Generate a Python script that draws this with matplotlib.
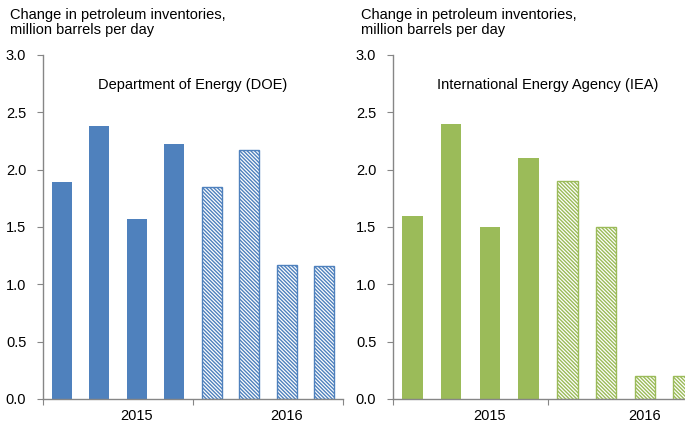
import matplotlib

matplotlib.use("Agg")
import matplotlib.pyplot as plt

plt.rcParams["font.family"] = ["Liberation Sans", "DejaVu Sans"]

# quarterly values, 2015 Q1 .. 2016 Q4 (2016 = forecast, hatched)
quarters = ["1Q15", "2Q15", "3Q15", "4Q15", "1Q16", "2Q16", "3Q16", "4Q16"]
doe_vals = [1.89, 2.38, 1.57, 2.22, 1.85, 2.17, 1.17, 1.16]
iea_vals = [1.60, 2.40, 1.50, 2.10, 1.90, 1.50, 0.20, 0.20]
forecast = [False, False, False, False, True, True, True, True]
year_labels = ["2015", "2016"]
year_pos = [2, 6]

DOE_COLOR = "#4F81BD"
IEA_COLOR = "#9BBB59"
AXIS_GRAY = "#868686"
YLABEL = "Change in petroleum inventories,\nmillion barrels per day"
FS = 10.5

W, H = 685, 424
fig = plt.figure(figsize=(W / 100, H / 100), dpi=100)
plt.rcParams["hatch.linewidth"] = 1.0


def panel(left_px, width_px, vals, color, title):
    ax = fig.add_axes([left_px / W, 25 / H, width_px / W, 344 / H])
    x = range(len(vals))
    for i, v, fc in zip(x, vals, forecast):
        if fc:
            ax.bar(i, v, 0.53, facecolor="white", edgecolor=color,
                   hatch="\\" * 9, linewidth=1.0)
        else:
            ax.bar(i, v, 0.53, color=color, linewidth=0)
    ax.set_xlim(-0.5, len(vals) - 0.5)
    ax.set_ylim(0, 3.0)
    ax.set_yticks([0, 0.5, 1.0, 1.5, 2.0, 2.5, 3.0])
    ax.set_yticklabels([f"{t:.1f}" for t in ax.get_yticks()])
    ax.set_xticks([-0.5, 3.5, 7.5])
    ax.set_xticklabels([])
    ax.set_xticks(year_pos, minor=True)
    ax.set_xticklabels(year_labels, minor=True)
    ax.tick_params(axis="x", which="minor", length=0, pad=7, labelsize=FS)
    ax.tick_params(axis="x", which="major", length=4, color=AXIS_GRAY, direction="out")
    ax.tick_params(axis="y", length=4, color=AXIS_GRAY, direction="out", labelsize=FS, pad=8)
    for s in ("top", "right"):
        ax.spines[s].set_visible(False)
    for s in ("left", "bottom"):
        ax.spines[s].set_color(AXIS_GRAY)
        ax.spines[s].set_linewidth(1.0)
    ax.text(0.5, 0.913, title, transform=ax.transAxes, ha="center", va="center",
            fontsize=FS)
    return ax


panel(43, 300, doe_vals, DOE_COLOR, "Department of Energy (DOE)")
panel(393, 310, iea_vals, IEA_COLOR, "International Energy Agency (IEA)")

fig.text(10 / W, 1 - 8 / H, YLABEL, ha="left", va="top", fontsize=FS, linespacing=1.1)
fig.text(361 / W, 1 - 8 / H, YLABEL, ha="left", va="top", fontsize=FS, linespacing=1.1)

fig.savefig("out.png", dpi=100)
